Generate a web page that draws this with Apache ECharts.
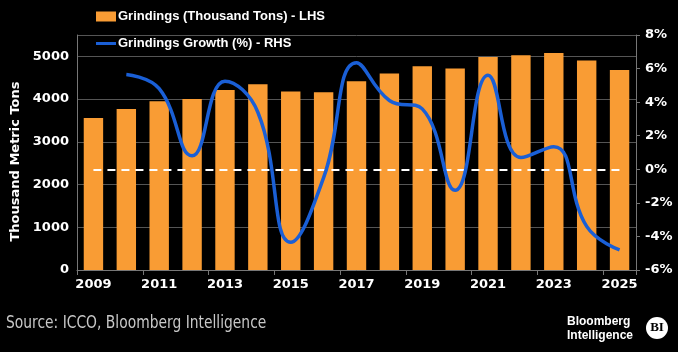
<!DOCTYPE html>
<html>
<head>
<meta charset="utf-8">
<script src="https://cdn.jsdelivr.net/npm/echarts@6/dist/echarts.min.js"></script>
<style>
	html,body{margin:0;padding:0;background:#000;}
	#chart{width:678px;height:352px;}
</style>
</head>
<body>
<div id="chart"></div>
<script>
	/** 数据 **/
	var years = ['2009','2010','2011','2012','2013','2014','2015','2016','2017',
	             '2018','2019','2020','2021','2022','2023','2024','2025'];
	var grindings = [3560, 3770, 3950, 4000, 4210, 4350, 4175, 4160, 4420,
	                 4600, 4770, 4715, 4985, 5025, 5080, 4905, 4680];
	var growth = [null, 5.65, 4.8, 0.8, 5.25, 3.4, -4.35, -0.5, 6.35,
	              4.1, 3.6, -1.25, 5.6, 0.7, 1.35, -3.4, -4.8];
	var zeroLine = [['2009', 0], ['2025', 0]];

	var chart = echarts.init(document.getElementById('chart'));

	var axisFont = {
		color: '#fff',
		fontWeight: 'bold',
		fontSize: 13,
		fontFamily: 'Verdana, DejaVu Sans, sans-serif'
	};

	var option = {
		backgroundColor: '#000',
		animation: false,
		legend: {
			orient: 'vertical',
			left: 96,
			top: 10,
			padding: 0,
			itemWidth: 20,
			itemHeight: 10,
			itemGap: 14,
			textStyle: {
				color: '#fff',
				fontWeight: 'bold',
				fontSize: 13,
				padding: [0, 0, 0, -3],
				fontFamily: 'Liberation Sans, Arial, sans-serif'
			},
			data: [
				{name: 'Grindings (Thousand Tons) - LHS', icon: 'rect'},
				{name: 'Grindings Growth (%) - RHS', icon: 'path://M0,3.5 L20,3.5 L20,6.5 L0,6.5 Z'}
			]
		},
		grid: {
			left: 77,
			right: 42,
			top: 35,
			bottom: 82
		},
		xAxis: {
			type: 'category',
			data: years,
			axisLine: {lineStyle: {color: '#777'}},
			axisTick: {show: true, lineStyle: {color: '#777'}},
			axisLabel: Object.assign({interval: 1, margin: 8}, axisFont)
		},
		yAxis: [
			{
				type: 'value',
				min: 0,
				max: 5500,
				interval: 1000,
				name: 'Thousand Metric Tons',
				nameLocation: 'middle',
				nameGap: 55,
				nameTextStyle: Object.assign({padding: [0, 0, 0, -18]}, axisFont),
				axisLine: {show: true, lineStyle: {color: '#777'}},
				axisTick: {show: false},
				axisLabel: Object.assign({
					formatter: function(v){ return v > 5000 ? '' : v; }
				}, axisFont),
				splitLine: {lineStyle: {color: '#555'}}
			},
			{
				type: 'value',
				min: -6,
				max: 8,
				interval: 2,
				axisLine: {show: true, lineStyle: {color: '#777'}},
				axisTick: {show: true, length: 4, lineStyle: {color: '#777'}},
				axisLabel: Object.assign({formatter: '{value}%', margin: 9}, axisFont),
				splitLine: {show: false}
			}
		],
		series: [
			{
				name: 'Grindings (Thousand Tons) - LHS',
				type: 'bar',
				data: grindings,
				barWidth: '59%',
				itemStyle: {color: '#f99c34'}
			},
			{
				name: 'Grindings Growth (%) - RHS',
				type: 'line',
				yAxisIndex: 1,
				data: growth,
				smooth: 0.45,
				showSymbol: false,
				symbol: 'none',
				lineStyle: {color: '#1a5fd6', width: 3.5},
				itemStyle: {color: '#1a5fd6'},
				z: 5,
				markLine: {
					silent: true,
					symbol: 'none',
					label: {show: false},
					lineStyle: {color: '#fff', type: [8, 6], width: 2},
					data: [[
						{coord: zeroLine[0]},
						{coord: zeroLine[1]}
					]]
				}
			}
		],
		graphic: [
			{
				type: 'text',
				left: 6,
				top: 314,
				scaleX: 0.77,
				style: {
					text: 'Source: ICCO, Bloomberg Intelligence',
					fill: '#c8c8c8',
					fontSize: 18,
					fontFamily: 'DejaVu Sans, sans-serif'
				}
			},
			{
				type: 'text',
				left: 567,
				top: 315,
				style: {
					text: 'Bloomberg\nIntelligence',
					fill: '#fff',
					fontSize: 12,
					lineHeight: 14,
					fontWeight: 'bold',
					fontFamily: 'Liberation Sans, sans-serif'
				}
			},
			{
				type: 'circle',
				shape: {cx: 657, cy: 328, r: 11},
				style: {fill: '#fff'}
			},
			{
				type: 'text',
				x: 657,
				y: 328,
				style: {
					text: 'BI',
					fill: '#000',
					fontSize: 13,
					fontWeight: 'bold',
					align: 'center',
					verticalAlign: 'middle',
					fontFamily: 'Liberation Serif, serif'
				}
			}
		]
	};
	chart.setOption(option);
</script>
</body>
</html>
